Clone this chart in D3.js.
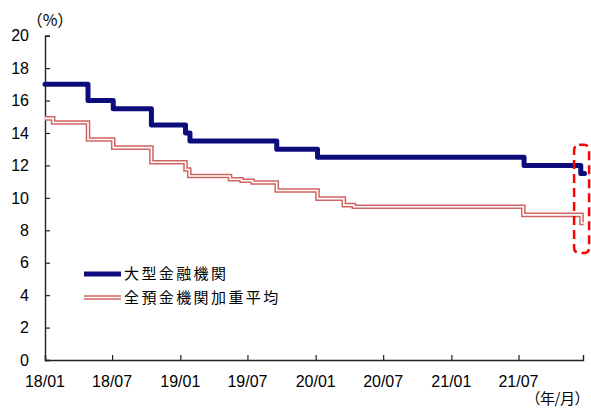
<!DOCTYPE html>
<html>
<head>
<meta charset="utf-8">
<script src="https://cdn.jsdelivr.net/npm/d3@7"></script>
<style>
  html, body { margin: 0; padding: 0; background: #fff; }
  svg text { font-family: "Liberation Sans", Arial, sans-serif; fill: #000; }
  .jp { font-family: "Noto Sans CJK JP", "Liberation Sans", sans-serif; }
</style>
</head>
<body>
<div id="chart"></div>
<script>
// step dates (change points) and rates, %
const bigDates   = ['2018-01-01', '2018-04-27', '2018-07-04', '2018-10-15', '2019-01-15', '2019-01-27',
                    '2019-09-18', '2020-01-06', '2021-07-16', '2021-12-16', '2021-12-26'];
const bigValues  = [17, 16, 15.5, 14.5, 14, 13.5, 13, 12.5, 12, 11.5, 11.5];

const allDates   = ['2018-01-01', '2018-01-23', '2018-04-27', '2018-07-04', '2018-10-15', '2019-01-15',
                    '2019-01-25', '2019-05-15', '2019-06-15', '2019-07-15', '2019-09-18', '2020-01-06',
                    '2020-03-17', '2020-04-13', '2021-07-14', '2021-12-18', '2021-12-24'];
const allValues  = [14.9, 14.65, 13.6, 13.1, 12.2, 11.75, 11.35, 11.15, 11.05, 10.95, 10.45, 9.95,
                    9.55, 9.45, 8.95, 8.45, 8.45];

const seriesNames = ['大型金融機関', '全預金機関加重平均'];
const yTicks = [0, 2, 4, 6, 8, 10, 12, 14, 16, 18, 20];
const xTickDates = ['2018-01-01', '2018-07-01', '2019-01-01', '2019-07-01', '2020-01-01',
                    '2020-07-01', '2021-01-01', '2021-07-01'];

const W = 591, H = 409;
const parse = d3.timeParse('%Y-%m-%d');

const svg = d3.select('#chart').append('svg')
  .attr('width', W).attr('height', H);

const x = d3.scaleTime()
  .domain([parse('2018-01-01'), parse('2021-12-22')])
  .range([45, 583]);
const y = d3.scaleLinear().domain([0, 20]).range([360, 35.7]);

const toPts = (ds, vs) => ds.map((d, i) => ({ date: parse(d), v: vs[i] }));
const big = toPts(bigDates, bigValues);
const all = toPts(allDates, allValues);

const line = d3.line()
  .x(d => x(d.date))
  .y(d => y(d.v))
  .curve(d3.curveStepAfter);

// axes
const yAxis = svg.append('g')
  .attr('transform', 'translate(45,0)')
  .call(d3.axisRight(y).tickValues(yTicks).tickSize(5).tickFormat(''));
const xAxis = svg.append('g')
  .attr('transform', 'translate(0,360)')
  .call(d3.axisTop(x).tickValues(xTickDates.map(parse)).tickSize(5).tickFormat(''));
[yAxis, xAxis].forEach(g => {
  g.select('.domain').attr('stroke', '#222').attr('stroke-width', 1.4);
  g.selectAll('.tick line').attr('stroke', '#222').attr('stroke-width', 1.2);
});

svg.append('g').selectAll('text').data(yTicks).join('text')
  .attr('x', 29).attr('y', d => y(d))
  .attr('dy', '0.36em')
  .attr('text-anchor', 'end')
  .attr('font-size', 16)
  .text(d => d);

svg.append('g').selectAll('text').data(xTickDates).join('text')
  .attr('x', d => x(parse(d))).attr('y', 387)
  .attr('text-anchor', 'middle')
  .attr('font-size', 16)
  .text(d => d3.timeFormat('%y/%m')(parse(d)));

svg.append('text').attr('class', 'jp')
  .attr('x', 50).attr('y', 26)
  .attr('text-anchor', 'middle')
  .attr('font-size', 16)
  .text('（%）');
svg.append('text').attr('class', 'jp')
  .attr('x', 589).attr('y', 404)
  .attr('text-anchor', 'end')
  .attr('font-size', 15).attr('letter-spacing', -0.5)
  .text('（年/月）');

// series
const red = '#D06461';
svg.append('path').datum(all)
  .attr('d', line).attr('fill', 'none')
  .attr('stroke', red).attr('stroke-width', 4.6);
svg.append('path').datum(all)
  .attr('d', line).attr('fill', 'none')
  .attr('stroke', '#fff').attr('stroke-width', 1.6);

svg.append('path').datum(big)
  .attr('d', line).attr('fill', 'none')
  .attr('stroke', '#0C0C7C').attr('stroke-width', 5)
  .attr('stroke-linejoin', 'round').attr('stroke-linecap', 'round');

// highlight box
svg.append('rect')
  .attr('x', x(parse('2021-11-28'))).attr('y', y(13.27))
  .attr('width', 15).attr('height', y(6.6) - y(13.27))
  .attr('rx', 5).attr('fill', 'none')
  .attr('stroke', '#FF0000').attr('stroke-width', 2.5)
  .attr('stroke-dasharray', '9,5');

// legend
const lg = svg.append('g');
lg.append('line').attr('x1', 84).attr('x2', 121).attr('y1', 274).attr('y2', 274)
  .attr('stroke', '#0C0C7C').attr('stroke-width', 5);
lg.append('line').attr('x1', 84).attr('x2', 121).attr('y1', 297.5).attr('y2', 297.5)
  .attr('stroke', red).attr('stroke-width', 4.6);
lg.append('line').attr('x1', 84).attr('x2', 121).attr('y1', 297.5).attr('y2', 297.5)
  .attr('stroke', '#fff').attr('stroke-width', 1.6);
lg.selectAll('text.lbl').data(seriesNames).join('text')
  .attr('class', 'jp lbl')
  .attr('x', 124).attr('y', (d, i) => 274 + i * 23.5)
  .attr('dy', '0.36em')
  .attr('font-size', 15).attr('letter-spacing', 2.4)
  .text(d => d);
</script>
</body>
</html>
